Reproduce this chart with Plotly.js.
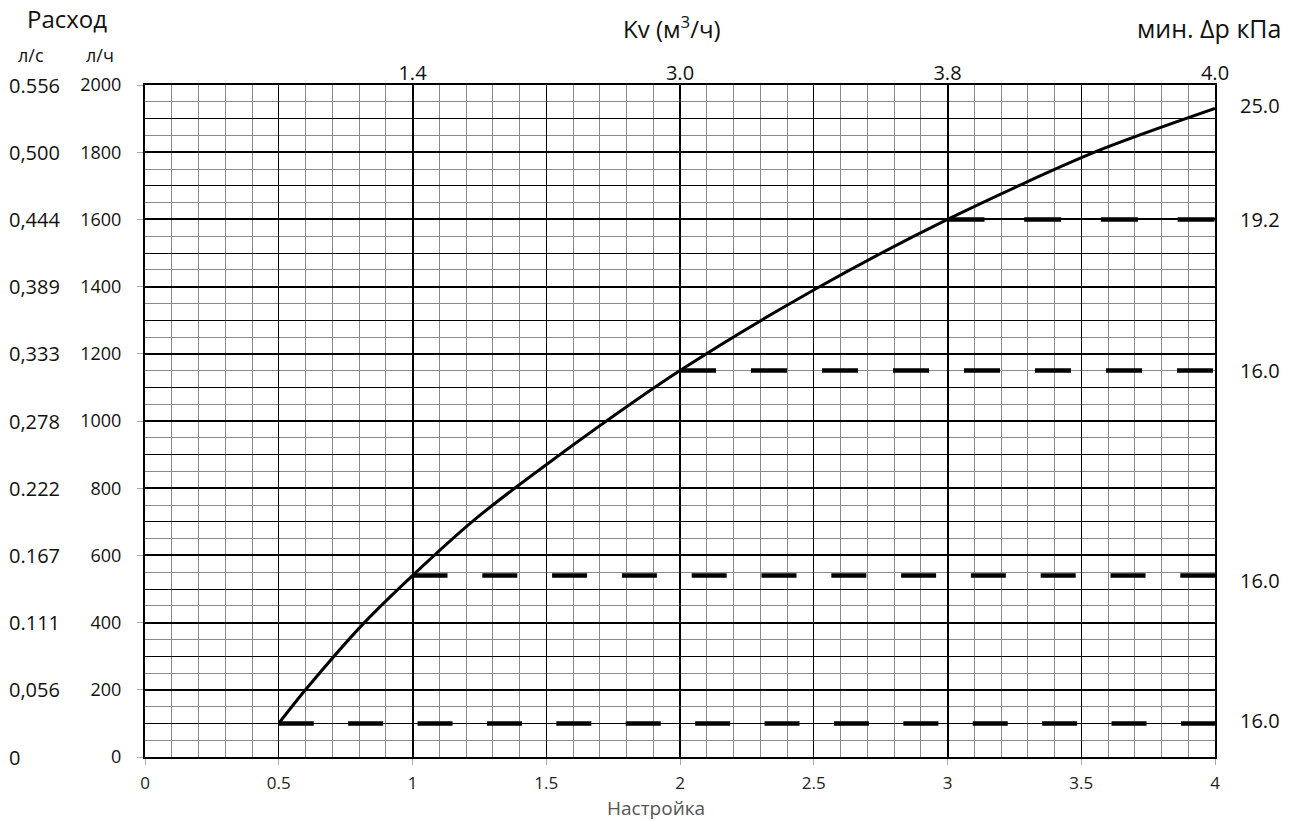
<!DOCTYPE html>
<html>
<head>
<meta charset="utf-8">
<script src="https://cdn.plot.ly/plotly-3.0.1.min.js"></script>
<style>body{margin:0;background:#fff;} #chart{width:1296px;height:821px;}</style>
</head>
<body>
<div id="chart"></div>
<script>
// Flow curve (setting vs flow, l/h)
const curveX = [0.5, 0.6, 0.82, 1.0, 1.23, 1.5, 2.0, 2.5, 3.0, 3.55, 4.0];
const curveY = [100, 200, 400, 540, 705, 870, 1150, 1390, 1600, 1800, 1930];

// Dashed levels (start setting, flow l/h)
const dashStart = [0.5, 1, 2, 3];
const dashLevel = [100, 540, 1150, 1600];
const dashPattern = ['35px,34.4px', '35px,34.8px', '36px,35px', '37px,39.7px'];

// Top axis: Kv values at settings
const kvPos = [1, 2, 3, 4];
const kvText = ['1.4', '3.0', '3.8', '4.0'];

// Left axes
const lhTicks = [0, 200, 400, 600, 800, 1000, 1200, 1400, 1600, 1800, 2000];
const lsText = ['0', '0,056', '0.111', '0.167', '0.222', '0,278', '0,333', '0,389', '0,444', '0,500', '0.556'];

// Right side: min Δp kPa
const dpLevel = [1940, 1600, 1150, 524, 108];
const dpText = ['25.0', '19.2', '16.0', '16.0', '16.0'];

const FONT = 'Open Sans, Noto Sans, sans-serif';
const traces = [];

dashStart.forEach((s, i) => {
  traces.push({
    x: [s, 4], y: [dashLevel[i], dashLevel[i]],
    mode: 'lines', type: 'scatter', showlegend: false, hoverinfo: 'skip',
    line: {color: '#000', width: 4.5, dash: dashPattern[i]}
  });
});

traces.push({
  x: curveX, y: curveY, mode: 'lines', type: 'scatter', showlegend: false,
  line: {color: '#000', width: 3, shape: 'spline', smoothing: 0.8}
});

// helper invisible trace for overlay axes
traces.push({x: [0, 4], y: [0, 0], xaxis: 'x2', yaxis: 'y2', mode: 'lines',
  line: {width: 0}, showlegend: false, hoverinfo: 'skip'});

const annotations = [];
lhTicks.forEach((v, i) => {
  annotations.push({xref: 'paper', yref: 'y', x: (7 - 145) / 1070, y: v, text: lsText[i],
    showarrow: false, xanchor: 'left', yanchor: 'middle',
    font: {family: FONT, size: 20, color: '#111'}});
});
dpLevel.forEach((v, i) => {
  annotations.push({xref: 'paper', yref: 'y', x: (1238 - 145) / 1070, y: v, text: dpText[i],
    showarrow: false, xanchor: 'left', yanchor: 'middle',
    font: {family: FONT, size: 20, color: '#111'}});
});
const pa = (px, py, text, size, anchor, color) => ({
  xref: 'paper', yref: 'paper',
  x: (px - 145) / 1070, y: (757 - py) / 672,
  text: text, showarrow: false, xanchor: anchor, yanchor: 'middle',
  font: {family: FONT, size: size, color: color || '#111'}
});
annotations.push(pa(67, 19, 'Расход', 24, 'center'));
annotations.push(pa(31, 55, 'л/с', 18, 'center'));
annotations.push(pa(100, 55, 'л/ч', 18, 'center'));
annotations.push(pa(672, 28, 'Kv (м<sup>3</sup>/ч)', 24, 'center'));
annotations.push(pa(1283, 28, 'мин. Δp кПа', 25, 'right'));
annotations.push(pa(656, 808, 'Настройка', 19, 'center', '#555'));

const layout = {
  width: 1296, height: 821,
  margin: {l: 145, r: 81, t: 85, b: 64},
  paper_bgcolor: '#fff', plot_bgcolor: '#fff',
  font: {family: FONT, color: '#111'},
  showlegend: false,
  xaxis: {
    range: [0, 4], tick0: 0, dtick: 0.5,
    showgrid: true, gridcolor: '#000', gridwidth: 1,
    minor: {dtick: 0.1, showgrid: true, gridcolor: '#8a8a8a', gridwidth: 1},
    ticks: 'outside', ticklen: 6, tickcolor: '#aaa', ticklabelstandoff: 4,
    showline: true, linecolor: '#000', linewidth: 2, mirror: true,
    zeroline: false, tickfont: {family: FONT, size: 17, color: '#222'}
  },
  xaxis2: {
    overlaying: 'x', side: 'top', range: [0, 4],
    tickmode: 'array', tickvals: kvPos, ticktext: kvText,
    showgrid: true, gridcolor: '#000', gridwidth: 2,
    ticks: '', zeroline: false, showline: false,
    tickfont: {family: FONT, size: 20, color: '#111'}
  },
  yaxis: {
    range: [0, 2000], tick0: 0, dtick: 200,
    showgrid: true, gridcolor: '#000', gridwidth: 2,
    minor: {dtick: 50, showgrid: true, gridcolor: '#8a8a8a', gridwidth: 1},
    ticks: 'outside', ticklen: 6, tickcolor: '#aaa', ticklabelstandoff: 12,
    showline: true, linecolor: '#000', linewidth: 2, mirror: true,
    zeroline: false, tickfont: {family: FONT, size: 18, color: '#111'}
  },
  yaxis2: {
    overlaying: 'y', range: [0, 2000], tick0: 0, dtick: 100,
    showgrid: true, gridcolor: '#000', gridwidth: 1,
    showticklabels: false, ticks: '', zeroline: false, showline: false
  },
  annotations: annotations
};

Plotly.newPlot('chart', traces, layout, {displayModeBar: false, staticPlot: true});
</script>
</body>
</html>
